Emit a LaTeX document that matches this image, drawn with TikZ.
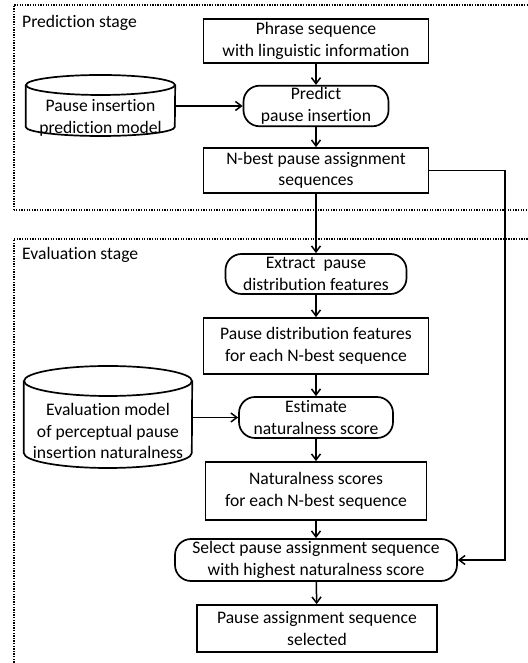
\documentclass[tikz,border=0pt]{standalone}
\usepackage{fontspec}
\setmainfont{Carlito}[Ligatures=CommonOff]
\usetikzlibrary{arrows.meta}

\begin{document}
\begin{tikzpicture}[
    x=1pt, y=1pt,
    every node/.style={font=\fontsize{17.6pt}{21.5pt}\selectfont},
    box/.style={draw, line width=1.7pt, minimum width=225pt, align=center, inner sep=2pt},
    proc/.style={draw, line width=1.7pt, rounded corners=16pt, align=center, inner sep=2pt},
    dbase/.style={align=center, inner sep=0pt},
    cyl/.style={line width=1.7pt},
    frame/.style={line width=1.2pt, dash pattern=on 1.3pt off 1.3pt},
    stage/.style={anchor=west, inner sep=0pt},
    arr/.style={-{Straight Barb[length=6pt, width=9pt]}, line width=1.5pt}
]
    \useasboundingbox (0,0) rectangle (527,663);

    % Stage frames
    \draw[frame] (14,453) rectangle (540,658);
    \draw[frame] (14,-10) rectangle (540,424);
    \node[stage] (predlbl) at (22,640) {Prediction stage};
    \node[stage] (evallbl) at (22,408) {Evaluation stage};

    % Prediction stage
    \node[box, minimum height=44pt] (phrase) at (316,622) {Phrase sequence\\with linguistic information};
    \node[proc, minimum width=145pt, minimum height=40pt] (predict) at (316,557) {Predict\\pause insertion};
    \node[box, minimum height=45pt] (nbest) at (316,492.5) {N-best pause assignment\\sequences};

    \node[dbase, minimum width=149pt] (pmodel) at (100.5,545) {Pause insertion\\prediction model};
    \draw[cyl] (pmodel.west |- 0,578) -- (pmodel.west |- 0,536)
        arc[start angle=180, end angle=360, x radius=74.5, y radius=9] -- (pmodel.east |- 0,578);
    \draw[cyl] (pmodel.center |- 0,578) ellipse[x radius=74.5, y radius=10];

    % Evaluation stage
    \node[proc, minimum width=181pt, minimum height=40pt] (extract) at (316,389) {Extract~ pause\\distribution features};
    \node[box, minimum height=56pt] (pdist) at (316,317) {Pause distribution features\\for each N-best sequence};
    \node[proc, minimum width=154pt, minimum height=41pt] (estimate) at (316,245.5) {Estimate\\naturalness score};
    \node[box, minimum width=221pt, minimum height=58pt] (natscore) at (316,172) {Naturalness scores\\for each N-best sequence};
    \node[proc, minimum width=282pt, minimum height=42pt] (select) at (316,103) {Select pause assignment sequence\\with highest naturalness score};
    \node[box, minimum width=240pt, minimum height=47pt] (chosen) at (317,34.5) {Pause assignment sequence\\selected};

    \node[dbase, minimum width=168pt] (emodel) at (108,232) {Evaluation model\\of perceptual pause\\insertion naturalness};
    \draw[cyl] (emodel.west |- 0,282) -- (emodel.west |- 0,210)
        arc[start angle=180, end angle=360, x radius=84, y radius=15] -- (emodel.east |- 0,282);
    \draw[cyl] (emodel.center |- 0,282) ellipse[x radius=84, y radius=15];

    \coordinate (bypass) at (505,0);

    % Arrows
    \draw[arr] (phrase) -- (predict);
    \draw[arr] (pmodel.east |- predict) -- (predict);
    \draw[arr] (predict) -- (nbest);
    \draw[arr] (nbest) -- (extract);
    \draw[arr] (extract) -- (pdist);
    \draw[arr] (pdist) -- (estimate);
    \draw[arr] (emodel.east |- estimate) -- (estimate);
    \draw[arr] (estimate) -- (natscore);
    \draw[arr] (natscore) -- (select);
    \draw[arr] (select) -- (chosen);
    \draw[arr] (nbest.east) -- (nbest.east -| bypass) |- (select.east);
\end{tikzpicture}
\end{document}
